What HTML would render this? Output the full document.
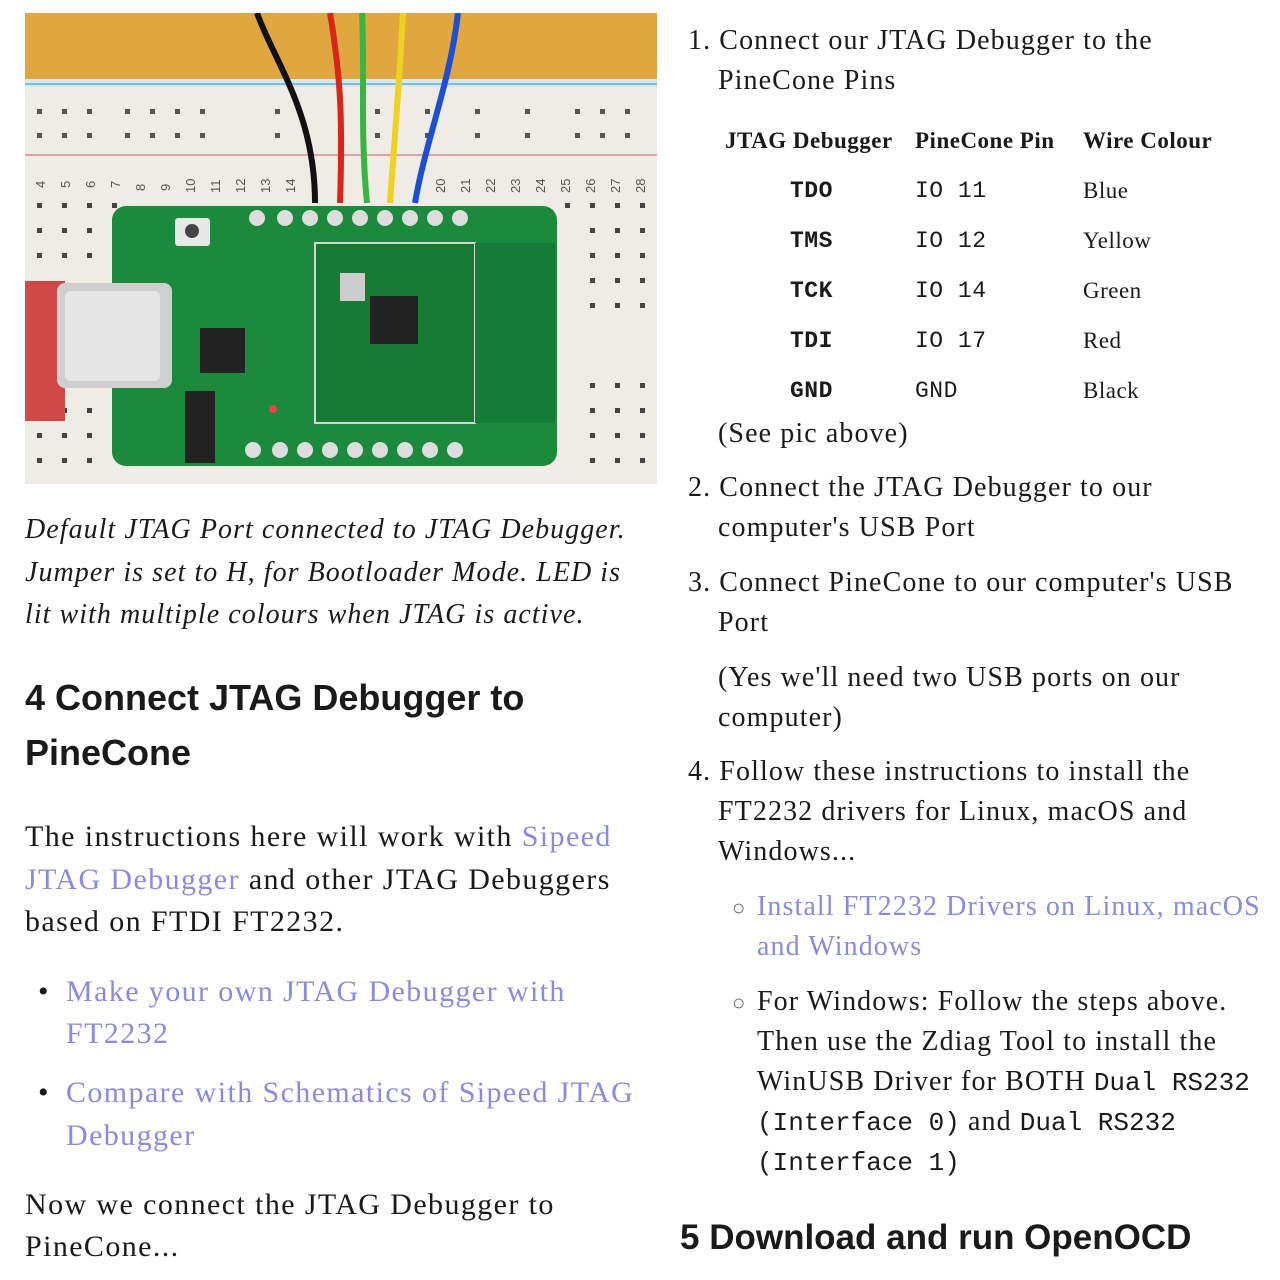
<!DOCTYPE html>
<html><head><meta charset="utf-8"><style>
body{margin:0;width:1280px;height:1280px;background:#fff;position:relative;overflow:hidden;font-family:"Liberation Serif",serif;color:#1a1a1a}
.a{position:absolute;white-space:nowrap}
.s{font-size:28px;letter-spacing:1.1px}
.p{font-size:30px;letter-spacing:1.4px}
.l{color:#8a8ae0}
.m{font-family:"Liberation Mono",monospace;letter-spacing:0}
.h{font-family:"Liberation Sans",sans-serif;font-weight:bold;font-size:36px}
.i{font-style:italic;font-size:28px;letter-spacing:1.05px}
.t{font-size:23px;letter-spacing:0.5px}
</style></head><body>
<svg class="a" style="left:25px;top:13px" width="632" height="471" viewBox="0 0 632 471">
<rect width="632" height="471" fill="#efece6"/>
<rect width="632" height="66" fill="#e0a640"/>
<rect y="66" width="632" height="8" fill="#d8e8ee"/>
<rect y="70" width="632" height="2" fill="#7cc0e0"/>
<rect y="141" width="632" height="2" fill="#e0a0a8"/>
<g fill="#555">
<rect x="12" y="96" width="5" height="5"/><rect x="37" y="96" width="5" height="5"/><rect x="62" y="96" width="5" height="5"/><rect x="100" y="96" width="5" height="5"/><rect x="125" y="96" width="5" height="5"/><rect x="150" y="96" width="5" height="5"/><rect x="175" y="96" width="5" height="5"/><rect x="250" y="96" width="5" height="5"/><rect x="350" y="96" width="5" height="5"/><rect x="400" y="96" width="5" height="5"/><rect x="450" y="96" width="5" height="5"/><rect x="500" y="96" width="5" height="5"/><rect x="550" y="96" width="5" height="5"/><rect x="575" y="96" width="5" height="5"/><rect x="600" y="96" width="5" height="5"/>
<rect x="12" y="120" width="5" height="5"/><rect x="37" y="120" width="5" height="5"/><rect x="62" y="120" width="5" height="5"/><rect x="100" y="120" width="5" height="5"/><rect x="125" y="120" width="5" height="5"/><rect x="150" y="120" width="5" height="5"/><rect x="175" y="120" width="5" height="5"/><rect x="250" y="120" width="5" height="5"/><rect x="350" y="120" width="5" height="5"/><rect x="400" y="120" width="5" height="5"/><rect x="450" y="120" width="5" height="5"/><rect x="500" y="120" width="5" height="5"/><rect x="550" y="120" width="5" height="5"/><rect x="575" y="120" width="5" height="5"/><rect x="600" y="120" width="5" height="5"/>
</g>
<g fill="#444">
<rect x="12" y="190" width="5" height="5"/><rect x="37" y="190" width="5" height="5"/><rect x="62" y="190" width="5" height="5"/><rect x="87" y="190" width="5" height="5"/>
<rect x="12" y="215" width="5" height="5"/><rect x="37" y="215" width="5" height="5"/><rect x="62" y="215" width="5" height="5"/>
<rect x="12" y="240" width="5" height="5"/><rect x="37" y="240" width="5" height="5"/><rect x="62" y="240" width="5" height="5"/>
<rect x="12" y="420" width="5" height="5"/><rect x="37" y="420" width="5" height="5"/><rect x="62" y="420" width="5" height="5"/>
<rect x="12" y="445" width="5" height="5"/><rect x="37" y="445" width="5" height="5"/><rect x="62" y="445" width="5" height="5"/>
<rect x="12" y="395" width="5" height="5"/><rect x="37" y="395" width="5" height="5"/><rect x="62" y="395" width="5" height="5"/>
<rect x="540" y="190" width="5" height="5"/><rect x="565" y="190" width="5" height="5"/><rect x="590" y="190" width="5" height="5"/><rect x="615" y="190" width="5" height="5"/>
<rect x="565" y="215" width="5" height="5"/><rect x="590" y="215" width="5" height="5"/><rect x="615" y="215" width="5" height="5"/>
<rect x="565" y="240" width="5" height="5"/><rect x="590" y="240" width="5" height="5"/><rect x="615" y="240" width="5" height="5"/>
<rect x="565" y="265" width="5" height="5"/><rect x="590" y="265" width="5" height="5"/><rect x="615" y="265" width="5" height="5"/>
<rect x="565" y="290" width="5" height="5"/><rect x="590" y="290" width="5" height="5"/><rect x="615" y="290" width="5" height="5"/>
<rect x="565" y="370" width="5" height="5"/><rect x="590" y="370" width="5" height="5"/><rect x="615" y="370" width="5" height="5"/>
<rect x="565" y="395" width="5" height="5"/><rect x="590" y="395" width="5" height="5"/><rect x="615" y="395" width="5" height="5"/>
<rect x="565" y="420" width="5" height="5"/><rect x="590" y="420" width="5" height="5"/><rect x="615" y="420" width="5" height="5"/>
<rect x="565" y="445" width="5" height="5"/><rect x="590" y="445" width="5" height="5"/><rect x="615" y="445" width="5" height="5"/>
</g>
<g font-family="Liberation Sans" font-size="13" fill="#555">
<text x="20" y="175" transform="rotate(-90 20 175)">4</text><text x="45" y="175" transform="rotate(-90 45 175)">5</text><text x="70" y="175" transform="rotate(-90 70 175)">6</text>
<text x="95" y="175" transform="rotate(-90 95 175)">7</text><text x="120" y="178" transform="rotate(-90 120 178)">8</text><text x="145" y="178" transform="rotate(-90 145 178)">9</text>
<text x="170" y="180" transform="rotate(-90 170 180)">10</text><text x="195" y="180" transform="rotate(-90 195 180)">11</text><text x="220" y="180" transform="rotate(-90 220 180)">12</text><text x="245" y="180" transform="rotate(-90 245 180)">13</text><text x="270" y="180" transform="rotate(-90 270 180)">14</text>
<text x="420" y="180" transform="rotate(-90 420 180)">20</text><text x="445" y="180" transform="rotate(-90 445 180)">21</text><text x="470" y="180" transform="rotate(-90 470 180)">22</text><text x="495" y="180" transform="rotate(-90 495 180)">23</text><text x="520" y="180" transform="rotate(-90 520 180)">24</text><text x="545" y="180" transform="rotate(-90 545 180)">25</text><text x="570" y="180" transform="rotate(-90 570 180)">26</text><text x="595" y="180" transform="rotate(-90 595 180)">27</text><text x="620" y="180" transform="rotate(-90 620 180)">28</text>
</g>
<rect x="87" y="193" width="445" height="260" rx="14" fill="#1c8a3c"/>
<rect x="290" y="230" width="160" height="180" fill="#177a34" stroke="#cfd8cf" stroke-width="2"/>
<rect x="450" y="230" width="80" height="180" fill="#157c38"/>
<rect x="345" y="283" width="48" height="48" fill="#222"/>
<rect x="315" y="260" width="25" height="28" fill="#ccc"/>
<rect x="175" y="315" width="45" height="45" fill="#222"/>
<rect x="150" y="205" width="35" height="28" rx="3" fill="#e8e8e8"/><circle cx="167" cy="218" r="7" fill="#444"/>
<rect x="160" y="378" width="30" height="72" fill="#222"/>
<rect x="0" y="268" width="40" height="140" fill="#d04848"/>
<rect x="32" y="270" width="115" height="105" rx="8" fill="#cfcfcf"/>
<rect x="40" y="278" width="95" height="90" rx="6" fill="#e6e6e6"/>
<circle cx="248" cy="396" r="4" fill="#e44"/>
<g fill="#ddd">
<circle cx="232" cy="205" r="8"/><circle cx="260" cy="205" r="8"/><circle cx="285" cy="205" r="8"/><circle cx="310" cy="205" r="8"/><circle cx="335" cy="205" r="8"/><circle cx="360" cy="205" r="8"/><circle cx="385" cy="205" r="8"/><circle cx="410" cy="205" r="8"/><circle cx="435" cy="205" r="8"/>
<circle cx="228" cy="437" r="8"/><circle cx="255" cy="437" r="8"/><circle cx="280" cy="437" r="8"/><circle cx="305" cy="437" r="8"/><circle cx="330" cy="437" r="8"/><circle cx="355" cy="437" r="8"/><circle cx="380" cy="437" r="8"/><circle cx="405" cy="437" r="8"/><circle cx="430" cy="437" r="8"/>
</g>
<g fill="none" stroke-width="6">
<path d="M232 0 C250 50 290 100 290 190" stroke="#111"/>
<path d="M305 0 C315 60 318 100 315 190" stroke="#d8261c"/>
<path d="M337 0 C340 60 335 120 342 190" stroke="#3ab540"/>
<path d="M378 0 C375 60 370 120 365 190" stroke="#f0d020"/>
<path d="M433 0 C425 70 400 130 390 190" stroke="#1e4fd0"/>
</g>
</svg>

<div class="a i" style="left:25px;top:514px">Default JTAG Port connected to JTAG Debugger.</div>
<div class="a i" style="left:25px;top:557px">Jumper is set to H, for Bootloader Mode. LED is</div>
<div class="a i" style="left:25px;top:599px">lit with multiple colours when JTAG is active.</div>
<div class="a h" style="left:25px;top:677px">4 Connect JTAG Debugger to</div>
<div class="a h" style="left:25px;top:732px">PineCone</div>
<div class="a p" style="left:25px;top:820px">The instructions here will work with <span class="l">Sipeed</span></div>
<div class="a p" style="left:25px;top:863px"><span class="l">JTAG Debugger</span> and other JTAG Debuggers</div>
<div class="a p" style="left:25px;top:905px">based on FTDI FT2232.</div>
<div class="a p" style="left:38px;top:975px">•</div>
<div class="a p l" style="left:66px;top:975px">Make your own JTAG Debugger with</div>
<div class="a p l" style="left:66px;top:1017px">FT2232</div>
<div class="a p" style="left:38px;top:1076px">•</div>
<div class="a p l" style="left:66px;top:1076px">Compare with Schematics of Sipeed JTAG</div>
<div class="a p l" style="left:66px;top:1119px">Debugger</div>
<div class="a p" style="left:25px;top:1188px">Now we connect the JTAG Debugger to</div>
<div class="a p" style="left:25px;top:1230px">PineCone...</div>

<div class="a s" style="left:688px;top:25px">1. Connect our JTAG Debugger to the</div>
<div class="a s" style="left:718px;top:65px">PineCone Pins</div>
<div class="a t" style="left:725px;top:128px;font-weight:bold">JTAG Debugger</div>
<div class="a t" style="left:915px;top:128px;font-weight:bold">PineCone Pin</div>
<div class="a t" style="left:1083px;top:128px;font-weight:bold">Wire Colour</div>
<div class="a t m" style="left:790px;top:178px;font-weight:bold">TDO</div><div class="a t m" style="left:915px;top:178px">IO 11</div><div class="a t" style="left:1083px;top:178px">Blue</div>
<div class="a t m" style="left:790px;top:228px;font-weight:bold">TMS</div><div class="a t m" style="left:915px;top:228px">IO 12</div><div class="a t" style="left:1083px;top:228px">Yellow</div>
<div class="a t m" style="left:790px;top:278px;font-weight:bold">TCK</div><div class="a t m" style="left:915px;top:278px">IO 14</div><div class="a t" style="left:1083px;top:278px">Green</div>
<div class="a t m" style="left:790px;top:328px;font-weight:bold">TDI</div><div class="a t m" style="left:915px;top:328px">IO 17</div><div class="a t" style="left:1083px;top:328px">Red</div>
<div class="a t m" style="left:790px;top:378px;font-weight:bold">GND</div><div class="a t m" style="left:915px;top:378px">GND</div><div class="a t" style="left:1083px;top:378px">Black</div>
<div class="a s" style="left:718px;top:418px">(See pic above)</div>
<div class="a s" style="left:688px;top:472px">2. Connect the JTAG Debugger to our</div>
<div class="a s" style="left:718px;top:512px">computer's USB Port</div>
<div class="a s" style="left:688px;top:567px">3. Connect PineCone to our computer's USB</div>
<div class="a s" style="left:718px;top:607px">Port</div>
<div class="a s" style="left:718px;top:662px">(Yes we'll need two USB ports on our</div>
<div class="a s" style="left:718px;top:702px">computer)</div>
<div class="a s" style="left:688px;top:756px">4. Follow these instructions to install the</div>
<div class="a s" style="left:718px;top:796px">FT2232 drivers for Linux, macOS and</div>
<div class="a s" style="left:718px;top:836px">Windows...</div>
<div class="a" style="left:732px;top:895px;font-size:22px;color:#666">○</div>
<div class="a s l" style="left:757px;top:891px">Install FT2232 Drivers on Linux, macOS</div>
<div class="a s l" style="left:757px;top:931px">and Windows</div>
<div class="a" style="left:732px;top:990px;font-size:22px;color:#666">○</div>
<div class="a s" style="left:757px;top:986px">For Windows: Follow the steps above.</div>
<div class="a s" style="left:757px;top:1026px">Then use the Zdiag Tool to install the</div>
<div class="a s" style="left:757px;top:1066px">WinUSB Driver for BOTH <span class="m" style="font-size:26px">Dual RS232</span></div>
<div class="a s" style="left:757px;top:1106px"><span class="m" style="font-size:26px">(Interface 0)</span> and <span class="m" style="font-size:26px">Dual RS232</span></div>
<div class="a s" style="left:757px;top:1146px"><span class="m" style="font-size:26px">(Interface 1)</span></div>
<div class="a h" style="left:680px;top:1218px;font-size:35px">5 Download and run OpenOCD</div>
</body></html>
